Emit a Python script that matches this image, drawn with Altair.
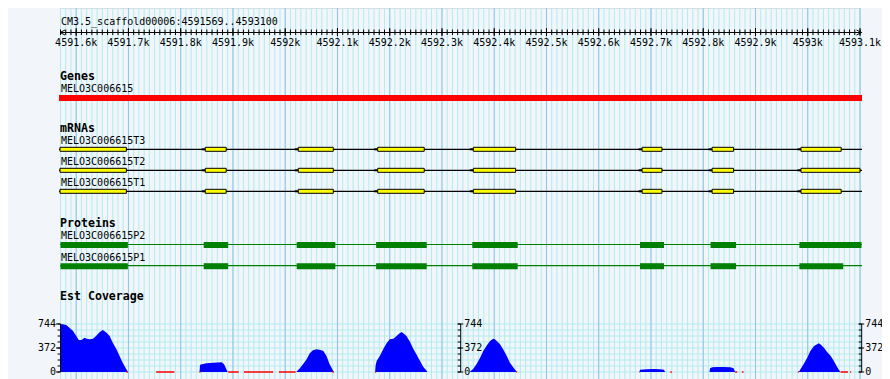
import altair as alt
import pandas as pd

# ---------------- data ----------------
REGION_START = 4591569
REGION_END = 4593100
region_title = "CM3.5_scaffold00006:4591569..4593100"

tick_values = [4591600, 4591700, 4591800, 4591900, 4592000, 4592100, 4592200, 4592300,
               4592400, 4592500, 4592600, 4592700, 4592800, 4592900, 4593000, 4593100]
tick_labels = ["4591.6k", "4591.7k", "4591.8k", "4591.9k", "4592k", "4592.1k", "4592.2k", "4592.3k",
               "4592.4k", "4592.5k", "4592.6k", "4592.7k", "4592.8k", "4592.9k", "4593k", "4593.1k"]
minor_step = 10

track_titles = ["Genes", "mRNAs", "Proteins", "Est Coverage"]

gene_names = ["MELO3C006615"]
gene_starts = [4591569]
gene_ends = [4593100]

mrna_names = ["MELO3C006615T3", "MELO3C006615T2", "MELO3C006615T1"]
exon_starts = [4591569, 4591847, 4592025, 4592177, 4592360, 4592683, 4592817, 4592987]
exon_ends_t3 = [4591696, 4591887, 4592092, 4592266, 4592441, 4592721, 4592858, 4593064]
exon_ends_t2 = [4591696, 4591887, 4592092, 4592266, 4592441, 4592721, 4592858, 4593100]
exon_ends_t1 = [4591696, 4591887, 4592092, 4592266, 4592441, 4592721, 4592858, 4593064]

protein_names = ["MELO3C006615P2", "MELO3C006615P1"]
cds_starts = [4591570, 4591844, 4592022, 4592174, 4592358, 4592679, 4592814, 4592984]
cds_ends_p2 = [4591696, 4591888, 4592093, 4592268, 4592442, 4592722, 4592860, 4593100]
cds_ends_p1 = [4591696, 4591888, 4592093, 4592268, 4592442, 4592722, 4592860, 4593065]

cov_pos_1 = [4591569, 4591574, 4591581, 4591587, 4591594, 4591600, 4591605, 4591610, 4591616, 4591620,
             4591626, 4591632, 4591638, 4591645, 4591651, 4591658, 4591664, 4591670, 4591677, 4591683,
             4591689, 4591696, 4591699]
cov_val_1 = [744, 739, 729, 687, 636, 558, 496, 496, 532, 517,
             506, 517, 558, 620, 651, 610, 558, 455, 351, 248,
             145, 41, 0]
cov_pos_2 = [4591836, 4591837, 4591849, 4591862, 4591878, 4591883, 4591887, 4591890]
cov_val_2 = [0, 114, 134, 145, 150, 120, 50, 0]
cov_pos_3 = [4592021, 4592028, 4592034, 4592041, 4592047, 4592053, 4592060, 4592066, 4592073, 4592079,
             4592085, 4592092, 4592093]
cov_val_3 = [0, 57, 119, 196, 289, 336, 351, 346, 326, 248, 119, 15, 0]
cov_pos_4 = [4592172, 4592173, 4592175, 4592181, 4592188, 4592194, 4592200, 4592207, 4592213, 4592219,
             4592223, 4592226, 4592232, 4592239, 4592245, 4592251, 4592258, 4592264, 4592271, 4592272]
cov_val_4 = [0, 100, 170, 248, 362, 444, 506, 517, 558, 599,
             620, 599, 558, 465, 362, 274, 170, 83, 15, 0]
cov_pos_5 = [4592353, 4592360, 4592366, 4592373, 4592379, 4592386, 4592392, 4592398, 4592401, 4592405,
             4592411, 4592417, 4592424, 4592430, 4592437, 4592442, 4592443]
cov_val_5 = [0, 52, 119, 222, 326, 413, 480, 517, 506, 480, 429, 351, 248, 145, 67, 15, 0]
cov_pos_6 = [4592678, 4592679, 4592692, 4592705, 4592718, 4592725, 4592727]
cov_val_6 = [0, 35, 41, 45, 41, 35, 0]
cov_pos_7 = [4592812, 4592813, 4592817, 4592826, 4592839, 4592852, 4592858, 4592861]
cov_val_7 = [0, 60, 72, 77, 77, 72, 60, 0]
cov_pos_8 = [4592983, 4592986, 4592992, 4592999, 4593005, 4593012, 4593018, 4593021, 4593024, 4593031,
             4593037, 4593044, 4593050, 4593056, 4593061, 4593063]
cov_val_8 = [0, 41, 119, 222, 326, 403, 429, 444, 429, 377, 310, 248, 170, 83, 15, 0]

zero_starts = [4591696, 4591753, 4591836, 4591891, 4591921, 4591988, 4592090, 4592172,
               4592442, 4592678, 4592737, 4592861, 4592874, 4592981, 4593063, 4593081]
zero_ends = [4591699, 4591788, 4591838, 4591911, 4591977, 4592020, 4592093, 4592174,
             4592444, 4592679, 4592740, 4592865, 4592877, 4592983, 4593077, 4593083]

cov_max = 744
cov_ticks = [0, 93, 186, 279, 372, 465, 558, 651, 744]
cov_label_values = [0, 372, 744]
cov_labels = ["0", "372", "744"]

# ---------------- styles / layout ----------------
W, H = 800, 371
BG = "#F2F6FA"
MINOR = "#B0ECF0"
MAJOR = "#8CC4EC"
FONT = "DejaVu Sans Mono"

xs = alt.Scale(domain=[REGION_START, REGION_END], nice=False, zero=False)
ys = alt.Scale(domain=[0, cov_max], range=[364, 316], nice=False, zero=False)


def X(f):
    return alt.X(f"{f}:Q", scale=xs, axis=None)


def X2(f):
    return alt.X2(f"{f}:Q")


def Y(f):
    return alt.Y(f"{f}:Q", scale=ys, axis=None)


layers = []

minor_df = pd.DataFrame({"p": list(range(REGION_START + 1, REGION_END + 1, minor_step))})
major_df = pd.DataFrame({"p": tick_values})

# vertical grid
layers.append(alt.Chart(minor_df).mark_rule(color=MINOR, strokeWidth=1).encode(
    x=X("p"), y=alt.value(0), y2=alt.value(H)))
# horizontal coverage grid
layers.append(alt.Chart(pd.DataFrame({"v": cov_ticks})).mark_rule(color=MINOR, strokeWidth=1).encode(
    y=Y("v"), x=alt.value(0), x2=alt.value(W)))
layers.append(alt.Chart(major_df).mark_rule(color=MAJOR, strokeWidth=1).encode(
    x=X("p"), y=alt.value(0), y2=alt.value(H)))

# title
layers.append(alt.Chart(pd.DataFrame({"t": [region_title]})).mark_text(
    align="left", baseline="alphabetic", font=FONT, fontSize=10, color="black").encode(
    text="t:N", x=alt.value(1), y=alt.value(17)))

# ruler
region_df = pd.DataFrame({"s": [REGION_START], "e": [REGION_END]})
layers.append(alt.Chart(region_df).mark_rule(color="black", strokeWidth=1, x2Offset=1.5).encode(
    x=X("s"), x2=X2("e"), y=alt.value(24.5)))
layers.append(alt.Chart(minor_df).mark_rule(color="black", strokeWidth=1).encode(
    x=X("p"), y=alt.value(21.5), y2=alt.value(27)))
layers.append(alt.Chart(major_df).mark_rule(color="black", strokeWidth=1).encode(
    x=X("p"), y=alt.value(20), y2=alt.value(28)))
layers.append(alt.Chart(region_df).mark_point(
    shape="M1,-1L-1,0L1,1", size=25, filled=False, color="black", strokeWidth=1, opacity=1,
    xOffset=2.5).encode(x=X("s"), y=alt.value(24.5)))
layers.append(alt.Chart(region_df).mark_point(
    shape="M-1,-1L1,0L-1,1", size=25, filled=False, color="black", strokeWidth=1, opacity=1,
    xOffset=-1).encode(x=X("e"), y=alt.value(24.5)))
layers.append(alt.Chart(pd.DataFrame({"p": tick_values, "t": tick_labels})).mark_text(
    align="center", baseline="alphabetic", font=FONT, fontSize=10, color="black").encode(
    x=X("p"), text="t:N", y=alt.value(38)))

# track headings
heading_y = [71.5, 124, 219, 292]
for t, yy in zip(track_titles, heading_y):
    layers.append(alt.Chart(pd.DataFrame({"t": [t]})).mark_text(
        align="left", baseline="alphabetic", font=FONT, fontSize=11.6, fontWeight="bold",
        color="black").encode(text="t:N", x=alt.value(0), y=alt.value(yy)))


def name_label(name, yy):
    return alt.Chart(pd.DataFrame({"t": [name]})).mark_text(
        align="left", baseline="alphabetic", font=FONT, fontSize=10, color="black").encode(
        text="t:N", x=alt.value(1), y=alt.value(yy))


# genes
layers.append(name_label(gene_names[0], 84))
layers.append(alt.Chart(pd.DataFrame({"s": gene_starts, "e": gene_ends})).mark_rect(
    color="#FF0000", xOffset=-1, x2Offset=2).encode(
    x=X("s"), x2=X2("e"), y=alt.value(87), y2=alt.value(93)))

# mRNAs
mrna_lines = [141.3, 162.3, 183.3]
for name, ends, ly in zip(mrna_names, [exon_ends_t3, exon_ends_t2, exon_ends_t1], mrna_lines):
    layers.append(name_label(name, ly - 5))
    layers.append(alt.Chart(region_df).mark_rule(color="black", strokeWidth=1.2, xOffset=-1, x2Offset=2).encode(
        x=X("s"), x2=X2("e"), y=alt.value(ly)))
    ex = pd.DataFrame({"s": exon_starts, "e": ends})
    layers.append(alt.Chart(ex.iloc[1:]).mark_rule(color="black", strokeWidth=2, xOffset=-3.5, x2Offset=0).encode(
        x=X("s"), x2=X2("s"), y=alt.value(ly)))
    layers.append(alt.Chart(ex).mark_rect(fill="#FFFF00", stroke="black", strokeWidth=1, xOffset=0).encode(
        x=X("s"), x2=X2("e"), y=alt.value(ly - 2), y2=alt.value(ly + 2)))

# proteins
prot_lines = [236.5, 257.7]
for name, ends, ly in zip(protein_names, [cds_ends_p2, cds_ends_p1], prot_lines):
    layers.append(name_label(name, ly - 5.2))
    layers.append(alt.Chart(region_df).mark_rule(color="#008000", strokeWidth=1.2, xOffset=0, x2Offset=2).encode(
        x=X("s"), x2=X2("e"), y=alt.value(ly)))
    layers.append(alt.Chart(pd.DataFrame({"s": cds_starts, "e": ends})).mark_rect(
        color="#008000", x2Offset=1.5).encode(
        x=X("s"), x2=X2("e"), y=alt.value(ly - 2.5), y2=alt.value(ly + 3.5)))

# coverage
blocks = [(cov_pos_1, cov_val_1), (cov_pos_2, cov_val_2), (cov_pos_3, cov_val_3), (cov_pos_4, cov_val_4),
          (cov_pos_5, cov_val_5), (cov_pos_6, cov_val_6), (cov_pos_7, cov_val_7), (cov_pos_8, cov_val_8)]
for ps, vs in blocks:
    bdf = pd.DataFrame({"p": ps, "v": vs})
    layers.append(alt.Chart(bdf).transform_calculate(z="0").mark_area(
        color="#0000FF", opacity=1, interpolate="linear", orient="vertical").encode(
        x=X("p"), y=Y("v"), y2=alt.Y2("z:Q")))

layers.append(alt.Chart(pd.DataFrame({"s": zero_starts, "e": zero_ends})).transform_calculate(z="0").mark_rule(
    color="#FF0000", strokeWidth=1.5).encode(x=X("s"), x2=X2("e"), y=Y("z")))

# coverage axes
axes_x = [0.5, 400.7, 801.7]
tick_df = pd.DataFrame({"v": cov_ticks})
lab_df = pd.DataFrame({"v": cov_label_values, "t": cov_labels})
major_tick_df = pd.DataFrame({"v": cov_label_values})
for k, ax in enumerate(axes_x):
    layers.append(alt.Chart(pd.DataFrame({"a": [0], "b": [cov_max]})).mark_rule(color="black", strokeWidth=1).encode(
        x=alt.value(ax), y=Y("a"), y2=alt.Y2("b:Q")))
    layers.append(alt.Chart(tick_df).mark_rule(color="black", strokeWidth=1).encode(
        x=alt.value(ax - 3), x2=alt.value(ax), y=Y("v")))
    if k == 0:
        layers.append(alt.Chart(major_tick_df).mark_rule(color="black", strokeWidth=1).encode(
            x=alt.value(ax - 4.5), x2=alt.value(ax), y=Y("v")))
        layers.append(alt.Chart(lab_df).mark_text(
            align="right", baseline="middle", font=FONT, fontSize=10, color="black").encode(
            x=alt.value(ax - 4.5), y=Y("v"), text="t:N"))
    else:
        layers.append(alt.Chart(major_tick_df).mark_rule(color="black", strokeWidth=1).encode(
            x=alt.value(ax - 3), x2=alt.value(ax + 2.5), y=Y("v")))
        layers.append(alt.Chart(lab_df).mark_text(
            align="left", baseline="middle", font=FONT, fontSize=10, color="black").encode(
            x=alt.value(ax + 3.5), y=Y("v"), text="t:N"))

chart = alt.layer(*layers).properties(
    width=W, height=H,
    padding={"left": 52, "top": 0, "right": 22, "bottom": 0},
    autosize=alt.AutoSizeParams(type="none"),
).configure_view(stroke=None).configure(background=BG)

chart.save("out.html", embed_options={"renderer": "svg", "actions": False})
